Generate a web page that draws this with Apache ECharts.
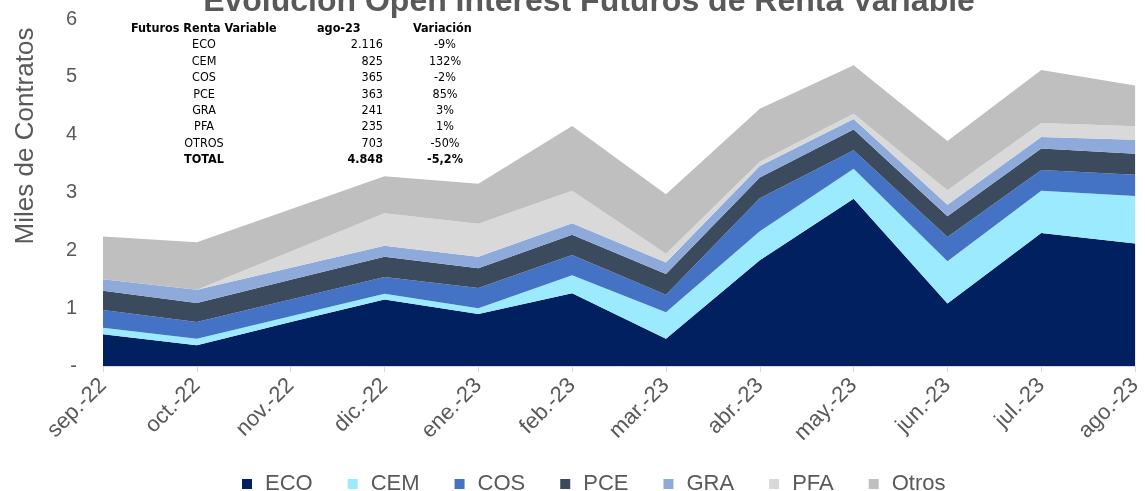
<!DOCTYPE html>
<html lang="es">
<head>
  <meta charset="UTF-8">
  <title>Evolución Open Interest Futuros de Renta Variable</title>
  <script src="https://cdn.jsdelivr.net/npm/echarts@6/dist/echarts.min.js"></script>
  <style>
    html, body, #main { margin: 0; padding: 0; width: 1145px; height: 491px; background: #fff; }
  </style>
</head>
<body>
  <div id="main"></div>
  <script>
    // months on the x axis
    const months = ['sep.-22', 'oct.-22', 'nov.-22', 'dic.-22', 'ene.-23', 'feb.-23',
                    'mar.-23', 'abr.-23', 'may.-23', 'jun.-23', 'jul.-23', 'ago.-23'];

    // open interest, thousands of contracts
    const eco   = [0.55, 0.36, 0.76, 1.15, 0.90, 1.26, 0.47, 1.83, 2.89, 1.08, 2.30, 2.116];
    const cem   = [0.11, 0.11, 0.10, 0.10, 0.10, 0.31, 0.46, 0.50, 0.52, 0.73, 0.73, 0.825];
    const cos   = [0.31, 0.29, 0.29, 0.29, 0.35, 0.35, 0.30, 0.57, 0.32, 0.42, 0.36, 0.365];
    const pce   = [0.33, 0.33, 0.34, 0.35, 0.34, 0.35, 0.36, 0.36, 0.36, 0.36, 0.37, 0.363];
    const gra   = [0.20, 0.23, 0.21, 0.19, 0.20, 0.20, 0.20, 0.20, 0.18, 0.20, 0.20, 0.241];
    const pfa   = [0.00, 0.00, 0.28, 0.56, 0.57, 0.56, 0.15, 0.07, 0.09, 0.25, 0.24, 0.235];
    const otros = [0.74, 0.82, 0.73, 0.64, 0.69, 1.12, 1.03, 0.92, 0.84, 0.85, 0.92, 0.703];

    const seriesNames = ['ECO', 'CEM', 'COS', 'PCE', 'GRA', 'PFA', 'Otros'];
    const seriesData = [eco, cem, cos, pce, gra, pfa, otros];
    const colors = ['#002060', '#9BEAFD', '#4472C4', '#3C4A5E', '#8EAADB', '#D9D9D9', '#BFBFBF'];

    // summary table in the top-left corner
    const tableHeader = ['Futuros Renta Variable', 'ago-23', 'Variación'];
    const tableNames = ['ECO', 'CEM', 'COS', 'PCE', 'GRA', 'PFA', 'OTROS', 'TOTAL'];
    const tableValues = ['2.116', '825', '365', '363', '241', '235', '703', '4.848'];
    const tableChange = ['-9%', '132%', '-2%', '85%', '3%', '1%', '-50%', '-5,2%'];

    const gray = '#595959';
    const font = 'Liberation Sans, Arial, sans-serif';
    const tableFont = '"DejaVu Sans Condensed", "DejaVu Sans", sans-serif';

    const graphics = [];
    const headerX = [131, 317, 413];
    tableHeader.forEach((t, i) => {
      graphics.push({
        type: 'text', x: headerX[i], y: 29,
        style: { text: t, font: 'bold 12.5px ' + tableFont, fill: '#000', verticalAlign: 'middle' }
      });
    });
    tableNames.forEach((n, i) => {
      const y = 45 + i * 16.43;
      const last = i === tableNames.length - 1;
      const f = (last ? 'bold 12.5px ' : '12.5px ') + tableFont;
      graphics.push({
        type: 'text', x: 204, y: y,
        style: { text: n, font: f, fill: '#000', align: 'center', verticalAlign: 'middle' }
      });
      graphics.push({
        type: 'text', x: 383, y: y,
        style: { text: tableValues[i], font: f, fill: '#000', align: 'right', verticalAlign: 'middle' }
      });
      graphics.push({
        type: 'text', x: 445, y: y,
        style: { text: tableChange[i], font: f, fill: '#000', align: 'center', verticalAlign: 'middle' }
      });
    });
    // y axis title
    graphics.push({
      type: 'text', x: 26, y: 136, rotation: Math.PI / 2,
      style: { text: 'Miles de Contratos', font: '26px ' + font, fill: gray, align: 'center', verticalAlign: 'middle' }
    });

    const chart = echarts.init(document.getElementById('main'));
    chart.setOption({
      animation: false,
      color: colors,
      title: {
        text: 'Evolución Open Interest Futuros de Renta Variable',
        left: 584, top: -19,
        textAlign: 'center',
        textStyle: { fontFamily: font, fontSize: 32, fontWeight: 'bold', color: gray }
      },
      grid: { left: 103, right: 5, top: 19, bottom: 125 },
      legend: {
        top: 468,
        left: 237,
        itemWidth: 10, itemHeight: 10, itemGap: 35,
        icon: 'rect',
        textStyle: { fontFamily: font, fontSize: 22, color: gray, padding: [0, 0, 0, 8] },
        data: seriesNames
      },
      xAxis: {
        type: 'category',
        boundaryGap: false,
        data: months,
        axisLine: { lineStyle: { color: '#D9D9D9', width: 1 } },
        axisTick: { alignWithLabel: true, length: 6, lineStyle: { color: '#D9D9D9' } },
        axisLabel: { rotate: 45, margin: 16, fontFamily: font, fontSize: 22, color: gray, interval: 0 }
      },
      yAxis: {
        type: 'value',
        min: 0, max: 6, interval: 1,
        axisLine: { show: false },
        axisTick: { show: false },
        splitLine: { show: false },
        axisLabel: {
          margin: 26, fontFamily: font, fontSize: 20, color: gray,
          formatter: v => (v === 0 ? '-' : v)
        }
      },
      graphic: graphics,
      series: seriesNames.map((name, i) => ({
        name: name,
        type: 'line',
        stack: 'total',
        symbol: 'none',
        lineStyle: { width: 0 },
        areaStyle: { color: colors[i], opacity: 1 },
        emphasis: { disabled: true },
        data: seriesData[i]
      }))
    });
  </script>
</body>
</html>
